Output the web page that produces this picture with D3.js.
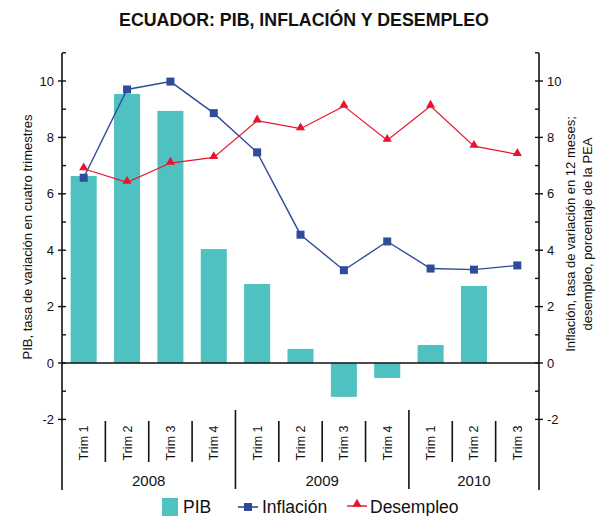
<!DOCTYPE html>
<html>
<head>
  <meta charset="utf-8">
  <title>Ecuador: PIB, inflación y desempleo</title>
  <script src="https://d3js.org/d3.v7.min.js"></script>
  <style>
    body { margin: 0; background: #fff; }
    text { font-family: "Liberation Sans", Arial, sans-serif; fill: #111; }
  </style>
</head>
<body>
<svg width="603" height="516"></svg>
<script>
// data
var years = ["2008", "2009", "2010"];
var quarters = ["Trim 1", "Trim 2", "Trim 3", "Trim 4",
                "Trim 1", "Trim 2", "Trim 3", "Trim 4",
                "Trim 1", "Trim 2", "Trim 3"];
var yearOf = [0, 0, 0, 0, 1, 1, 1, 1, 2, 2, 2];
var pib = [6.63, 9.54, 8.94, 4.04, 2.80, 0.50, -1.20, -0.53, 0.64, 2.73, null];
var inflacion = [6.57, 9.70, 9.98, 8.86, 7.47, 4.55, 3.29, 4.31, 3.35, 3.31, 3.46];
var desempleo = [6.89, 6.41, 7.09, 7.29, 8.59, 8.31, 9.11, 7.90, 9.11, 7.69, 7.40];
var majorTicks = [-2, 0, 2, 4, 6, 8, 10];
var minorTicks = [-1, 1, 3, 5, 7, 9, 11];

var cTeal = "#4fc1c1", cBlue = "#2f4c9c", cRed = "#e8142e";

var svg = d3.select("svg");
var left = 62, right = 539, axisTop = 53, axisBottom = 490;

var idx = d3.range(quarters.length);
var x = d3.scaleBand().domain(idx).range([left, right]).paddingInner(0.4).paddingOuter(0.2);
var y = d3.scaleLinear().domain([-4, 11]).range([475.8, 52.8]);

// title
svg.append("text")
    .attr("x", 304).attr("y", 26)
    .attr("text-anchor", "middle")
    .style("font-weight", "bold").style("font-size", "17.8px")
    .text("ECUADOR: PIB, INFLACIÓN Y DESEMPLEO");

// bars
svg.append("g").selectAll("rect")
    .data(idx.filter(function(i) { return pib[i] != null; }))
    .enter().append("rect")
    .attr("x", function(i) { return x(i); })
    .attr("width", x.bandwidth())
    .attr("y", function(i) { return y(Math.max(0, pib[i])); })
    .attr("height", function(i) { return Math.abs(y(pib[i]) - y(0)); })
    .attr("fill", cTeal);

// zero line
svg.append("line")
    .attr("x1", left).attr("x2", right)
    .attr("y1", y(0)).attr("y2", y(0))
    .attr("stroke", "#111").attr("stroke-width", 1.3);

// axes
function drawAxis(ax, side) {
  var g = svg.append("g");
  g.append("line").attr("x1", ax).attr("x2", ax)
      .attr("y1", axisTop).attr("y2", axisBottom)
      .attr("stroke", "#111").attr("stroke-width", 1.6);
  g.selectAll(".maj").data(majorTicks).enter().append("line")
      .attr("x1", ax - 4).attr("x2", ax + 4)
      .attr("y1", function(d) { return y(d); }).attr("y2", function(d) { return y(d); })
      .attr("stroke", "#111").attr("stroke-width", 1.4);
  g.selectAll(".min").data(minorTicks).enter().append("line")
      .attr("x1", ax).attr("x2", ax + (side === "left" ? 4 : -4))
      .attr("y1", function(d) { return y(d); }).attr("y2", function(d) { return y(d); })
      .attr("stroke", "#111").attr("stroke-width", 1.4);
  g.selectAll("text").data(majorTicks).enter().append("text")
      .attr("x", side === "left" ? ax - 8 : ax + 8)
      .attr("y", function(d) { return y(d) + 4.5; })
      .attr("text-anchor", side === "left" ? "end" : "start")
      .style("font-size", "13px")
      .text(function(d) { return d; });
}
drawAxis(left, "left");
drawAxis(right, "right");

// axis titles
svg.append("text")
    .attr("transform", "translate(32,237) rotate(-90)")
    .attr("text-anchor", "middle").style("font-size", "13px")
    .text("PIB, tasa de variación en cuatro trimestres");
var rt = svg.append("text")
    .attr("transform", "translate(575,234) rotate(-90)")
    .attr("text-anchor", "middle").style("font-size", "13px");
rt.append("tspan").attr("x", 0).attr("dy", 0).text("Inflación, tasa de variación en 12 meses;");
rt.append("tspan").attr("x", 0).attr("dy", 17).text("desempleo, porcentaje de la PEA");

// quarter labels and separators
svg.append("g").selectAll("text")
    .data(idx).enter().append("text")
    .attr("transform", function(i) {
      return "translate(" + (x(i) + x.bandwidth() / 2 + 4.5) + ",443) rotate(-90)";
    })
    .attr("text-anchor", "middle").style("font-size", "12.5px")
    .text(function(i) { return quarters[i]; });

svg.append("g").selectAll("line")
    .data(idx.slice(1)).enter().append("line")
    .attr("x1", function(i) { return x(i) - x.step() * x.paddingInner() / 2; })
    .attr("x2", function(i) { return x(i) - x.step() * x.paddingInner() / 2; })
    .attr("y1", function(i) { return yearOf[i] !== yearOf[i - 1] ? 410 : 421; })
    .attr("y2", function(i) { return yearOf[i] !== yearOf[i - 1] ? 489 : 462; })
    .attr("stroke", "#111").attr("stroke-width", 1.6);

svg.append("g").selectAll("text")
    .data(years).enter().append("text")
    .attr("x", function(d, k) {
      var q = idx.filter(function(i) { return yearOf[i] === k; });
      return (x(q[0]) + x(q[q.length - 1]) + x.bandwidth()) / 2;
    })
    .attr("y", 486)
    .attr("text-anchor", "middle").style("font-size", "15px")
    .text(function(d) { return d; });

// lines
var line = function(vals) {
  return d3.line()
    .x(function(i) { return x(i) + x.bandwidth() / 2; })
    .y(function(i) { return y(vals[i]); })(idx);
};
svg.append("path").attr("d", line(inflacion))
    .attr("fill", "none").attr("stroke", cBlue).attr("stroke-width", 1.4);
svg.append("path").attr("d", line(desempleo))
    .attr("fill", "none").attr("stroke", cRed).attr("stroke-width", 1.2);

var tri = d3.symbol().type(d3.symbolTriangle).size(36);
svg.append("g").selectAll("rect")
    .data(idx).enter().append("rect")
    .attr("x", function(i) { return x(i) + x.bandwidth() / 2 - 4; })
    .attr("y", function(i) { return y(inflacion[i]) - 4; })
    .attr("width", 8).attr("height", 8)
    .attr("fill", cBlue);
svg.append("g").selectAll("path")
    .data(idx).enter().append("path")
    .attr("d", tri)
    .attr("transform", function(i) {
      return "translate(" + (x(i) + x.bandwidth() / 2) + "," + (y(desempleo[i]) - 1) + ")";
    })
    .attr("fill", cRed);

// legend
var lg = svg.append("g").style("font-size", "17.5px");
lg.append("rect").attr("x", 162).attr("y", 498).attr("width", 16).attr("height", 18).attr("fill", cTeal);
lg.append("text").attr("x", 183).attr("y", 513).text("PIB");
lg.append("line").attr("x1", 238).attr("x2", 258).attr("y1", 507).attr("y2", 507)
    .attr("stroke", cBlue).attr("stroke-width", 1.6);
lg.append("rect").attr("x", 244).attr("y", 503).attr("width", 8).attr("height", 8).attr("fill", cBlue);
lg.append("text").attr("x", 262).attr("y", 513).text("Inflación");
lg.append("line").attr("x1", 347).attr("x2", 367).attr("y1", 506).attr("y2", 506)
    .attr("stroke", cRed).attr("stroke-width", 1.4);
lg.append("path").attr("d", tri).attr("transform", "translate(357,504)").attr("fill", cRed);
lg.append("text").attr("x", 370).attr("y", 513).text("Desempleo");
</script>
</body>
</html>
